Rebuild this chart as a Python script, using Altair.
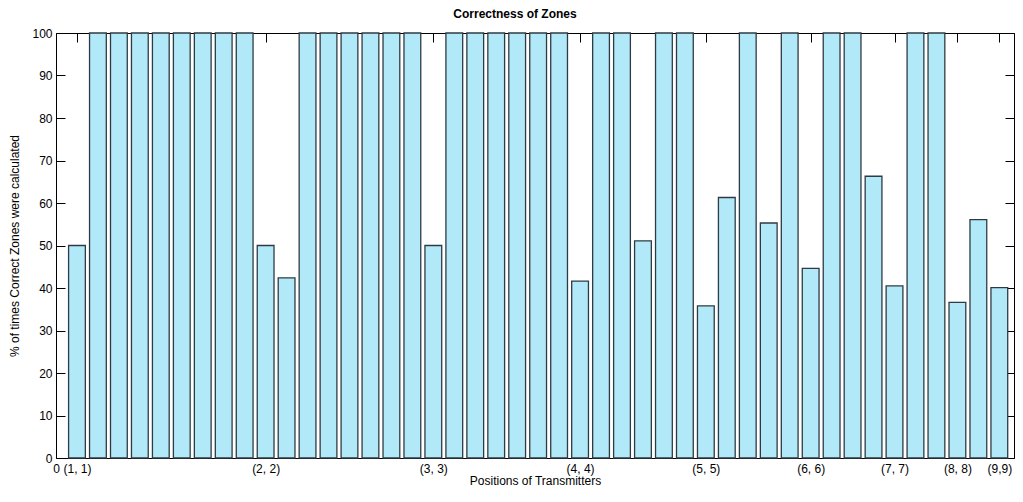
import altair as alt
import pandas as pd

# Pair labels (i, j) for transmitter positions, i <= j
pairs = [f"({i}, {j})" for i in range(1, 10) for j in range(i, 10)]

# % of times the correct zone was calculated, one value per pair
values = [
    50, 100, 100, 100, 100, 100, 100, 100, 100,      # (1, 1) .. (1, 9)
    50, 42.4, 100, 100, 100, 100, 100, 100,          # (2, 2) .. (2, 9)
    50, 100, 100, 100, 100, 100, 100,                # (3, 3) .. (3, 9)
    41.6, 100, 100, 51.1, 100, 100,                  # (4, 4) .. (4, 9)
    35.8, 61.3, 100, 55.3, 100,                      # (5, 5) .. (5, 9)
    44.6, 100, 100, 66.3,                            # (6, 6) .. (6, 9)
    40.5, 100, 100,                                  # (7, 7) .. (7, 9)
    36.6, 56.1,                                      # (8, 8) .. (8, 9)
    40.1,                                            # (9, 9)
]

tick_values = [0, 1, 10, 18, 25, 31, 36, 40, 43, 45]
tick_labels = ["0", "(1, 1)", "(2, 2)", "(3, 3)", "(4, 4)", "(5, 5)",
               "(6, 6)", "(7, 7)", "(8, 8)", "(9,9)"]
y_ticks = [0, 10, 20, 30, 40, 50, 60, 70, 80, 90, 100]

df = pd.DataFrame({
    "pos": list(range(1, len(values) + 1)),
    "pair": pairs,
    "value": values,
})

label_map = "{" + ",".join(f"'{v}':'{l}'" for v, l in zip(tick_values, tick_labels)) + "}"
label_expr = f"{label_map}[''+datum.value]"

FONT = "Liberation Sans"
xscale = alt.Scale(domain=[0, 45.7], nice=False, zero=False)
yscale = alt.Scale(domain=[0, 100], nice=False)

base = alt.Chart(df).transform_calculate(
    lo="datum.pos - 0.4", hi="datum.pos + 0.4"
)

bars = base.mark_bar(
    fill="#B2E9F9", stroke="#2F3B44", strokeWidth=1.3, opacity=1
).encode(
    x=alt.X("lo:Q", scale=xscale, axis=alt.Axis(
        orient="bottom", values=tick_values, labelExpr=label_expr,
        offset=-9, tickSize=9, tickColor="black", domain=False, grid=False,
        labelPadding=5, labelFlush=False, labelOverlap=False, labelBound=False,
        labelFont=FONT, labelFontSize=12, labelColor="black",
        title="Positions of Transmitters", titleFont=FONT, titleFontSize=12,
        titleFontWeight="normal", titleColor="black", titlePadding=1)),
    x2="hi:Q",
    y=alt.Y("value:Q", scale=yscale, axis=alt.Axis(
        orient="left", values=y_ticks, offset=-9, tickSize=9, tickColor="black",
        domain=False, grid=False, labelPadding=4, labelFont=FONT,
        labelFontSize=12, labelColor="black",
        title="% of times Correct Zones were calculated", titleFont=FONT,
        titleFontSize=12, titleFontWeight="normal", titleColor="black",
        titlePadding=10)),
    y2=alt.datum(0),
    tooltip=["pair:N", "value:Q"],
)

frame = base.mark_bar(opacity=0).encode(
    x=alt.X("lo:Q", scale=xscale, axis=alt.Axis(
        orient="top", values=tick_values, labels=False, offset=-9, tickSize=9,
        tickColor="black", domain=False, grid=False, title="")),
    x2="hi:Q",
    y=alt.Y("value:Q", scale=yscale, axis=alt.Axis(
        orient="right", values=y_ticks, labels=False, offset=-9, tickSize=9,
        tickColor="black", domain=False, grid=False, title="")),
    y2=alt.datum(0),
)

chart = alt.layer(bars, frame).resolve_axis(
    x="independent", y="independent"
).properties(
    width=958,
    height=425,
    autosize=alt.AutoSizeParams(type="none"),
    padding={"left": 48, "top": 25, "right": 1, "bottom": 30},
    title=alt.TitleParams(
        text="Correctness of Zones", font=FONT, fontSize=12, fontWeight="bold",
        color="black", anchor="middle", frame="group", dx=-20, offset=6),
).configure_view(
    stroke="black", strokeWidth=1
)

chart.save("out.html", embed_options={"renderer": "svg", "actions": False})
